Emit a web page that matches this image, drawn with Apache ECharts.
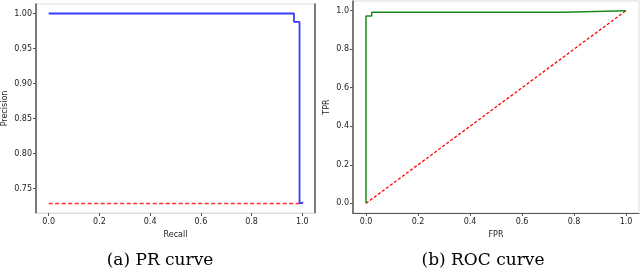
<!DOCTYPE html>
<html><head><meta charset="utf-8">
<script src="https://cdn.jsdelivr.net/npm/echarts@6/dist/echarts.min.js"></script>
<style>html,body{margin:0;padding:0;background:#fff}#c{width:640px;height:271px}</style>
</head><body><div id="c"></div>
<script>
// PR curve
const prRecall = [0, 0.967, 0.967, 0.989, 0.989, 1.0, 1.0];
const prPrecision = [1.0, 1.0, 0.988, 0.988, 0.729, 0.729, 0.731];
const prBaseX = [0, 1];
const prBaseY = [0.7285, 0.7285];
// ROC curve
const rocFPR = [0, 0, 0.022, 0.022, 0.765, 0.765, 1.0];
const rocTPR = [0, 0.972, 0.972, 0.992, 0.992, 1.0, 1.0];
const diagX = [0, 1];
const diagY = [0, 1];
// ticks
const xTicks = [0, 0.2, 0.4, 0.6, 0.8, 1.0];
const prYTicks = [0.75, 0.80, 0.85, 0.90, 0.95, 1.00];
const rocYTicks = [0, 0.2, 0.4, 0.6, 0.8, 1.0];
const captions = ['(a) PR curve', '(b) ROC curve'];

const zip = (a, b) => a.map((v, i) => [v, b[i]]);
const dark = '#555';
const light = '#ddd';
const tickFont = {fontFamily: 'DejaVu Sans', fontSize: 8, color: '#222'};
const nameFont = {fontFamily: 'DejaVu Sans', fontSize: 8, color: '#222'};

function xAx(gi, name, lineColor) {
  return {type: 'value', gridIndex: gi, min: -0.05, max: 1.05, name: name,
    nameLocation: 'middle', nameGap: 17, nameTextStyle: nameFont,
    splitLine: {show: false},
    axisLine: {show: true, onZero: false, lineStyle: {color: lineColor, width: 1}},
    axisTick: {show: true, length: 3, customValues: xTicks, lineStyle: {color: dark}},
    axisLabel: {customValues: xTicks, margin: 5, ...tickFont, formatter: v => v.toFixed(1)}};
}
function yAx(gi, name, min, max, ticks, dec, gap) {
  return {type: 'value', gridIndex: gi, min: min, max: max, name: name,
    nameLocation: 'middle', nameGap: gap, nameTextStyle: nameFont,
    splitLine: {show: false},
    axisLine: {show: true, onZero: false, lineStyle: {color: dark, width: 1.5}},
    axisTick: {show: true, length: 3, customValues: ticks, lineStyle: {color: dark}},
    axisLabel: {customValues: ticks, margin: 4, ...tickFont, formatter: v => v.toFixed(dec)}};
}

const chart = echarts.init(document.getElementById('c'), null, {renderer: 'canvas'});
chart.setOption({
  animation: false,
  grid: [
    {left: 34, right: 325, top: 4, bottom: 58, show: true, borderColor: light, borderWidth: 1},
    {left: 353, right: 1, top: 1, bottom: 58, show: true, borderColor: light, borderWidth: 1}
  ],
  xAxis: [xAx(0, 'Recall', light), xAx(1, 'FPR', dark)],
  yAxis: [
    yAx(0, 'Precision', 0.7149, 1.0136, prYTicks, 2, 27),
    yAx(1, 'TPR', -0.05, 1.05, rocYTicks, 1, 22),
    {type: 'value', gridIndex: 0, position: 'right', min: 0.7149, max: 1.0136,
      splitLine: {show: false}, axisTick: {show: false}, axisLabel: {show: false},
      axisLine: {show: true, onZero: false, lineStyle: {color: dark, width: 1.5}}}
  ],
  graphic: [
    {type: 'text', x: 160, y: 261, style: {text: captions[0], font: '17px "DejaVu Serif"', fill: '#000', textAlign: 'center', textVerticalAlign: 'middle'}},
    {type: 'text', x: 483, y: 261, style: {text: captions[1], font: '17px "DejaVu Serif"', fill: '#000', textAlign: 'center', textVerticalAlign: 'middle'}}
  ],
  series: [
    {type: 'line', xAxisIndex: 0, yAxisIndex: 0, data: zip(prBaseX, prBaseY), showSymbol: false, symbol: 'none',
      lineStyle: {color: '#ff3030', width: 1.3, type: [4, 2.5]}},
    {type: 'line', xAxisIndex: 0, yAxisIndex: 0, data: zip(prRecall, prPrecision), showSymbol: false, symbol: 'none',
      lineStyle: {color: '#3a3aff', width: 1.8}},
    {type: 'line', xAxisIndex: 1, yAxisIndex: 1, data: zip(diagX, diagY), showSymbol: false, symbol: 'none',
      lineStyle: {color: '#ff0000', width: 1.3, type: [3, 2]}},
    {type: 'line', xAxisIndex: 1, yAxisIndex: 1, data: zip(rocFPR, rocTPR), showSymbol: false, symbol: 'none',
      lineStyle: {color: '#1a8a1a', width: 1.5}}
  ]
});
</script></body></html>
